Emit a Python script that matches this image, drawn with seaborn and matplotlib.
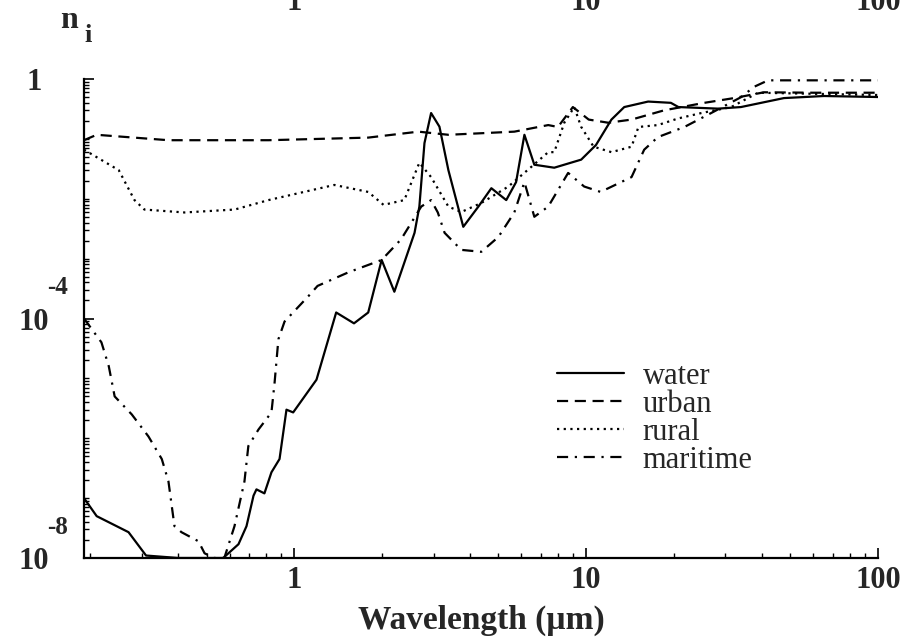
import numpy as np
import pandas as pd
import matplotlib
matplotlib.use("Agg")
import matplotlib.pyplot as plt
import matplotlib.transforms as mtransforms
from matplotlib.ticker import LogLocator, NullFormatter
import seaborn as sns

# values (wavelength in um, imaginary index n_i)
water_wl = [0.19, 0.21, 0.27, 0.31, 0.40, 0.50, 0.57, 0.594, 0.643, 0.685, 0.724, 0.741,
            0.789, 0.834, 0.889, 0.939, 0.99, 1.19, 1.39, 1.60, 1.79, 1.99, 2.20, 2.58,
            2.68, 2.79, 2.94, 3.14, 3.37, 3.79, 4.27, 4.73, 5.32, 5.75, 6.14, 6.64, 7.77,
            9.61, 10.8, 12.2, 13.5, 16.3, 19.5, 20.7, 28.3, 33.9, 47.6, 65.3, 100]
water_n = [1.0e-7, 5.0e-8, 2.7e-8, 1.1e-8, 1e-8, 1e-8, 1e-8, 1.2e-8, 1.7e-8, 3.4e-8,
           1.1e-7, 1.4e-7, 1.2e-7, 2.7e-7, 4.5e-7, 3.0e-6, 2.7e-6, 9.5e-6, 1.26e-4,
           8.3e-5, 1.26e-4, 9.5e-4, 2.8e-4, 2.7e-3, 7.4e-3, 0.085, 0.27, 0.16, 0.030,
           3.4e-3, 7.4e-3, 0.015, 9.5e-3, 0.019, 0.117, 0.037, 0.033, 0.045, 0.079,
           0.21, 0.34, 0.42, 0.40, 0.34, 0.32, 0.34, 0.48, 0.52, 0.50]

urban_wl = [0.19, 0.21, 0.37, 0.815, 1.79, 2.66, 3.37, 5.67, 7.41, 8.0, 9.0, 10.2,
            11.9, 14.3, 18.5, 25.4, 32.1, 40.7, 60.0, 100]
urban_n = [0.095, 0.117, 0.095, 0.095, 0.105, 0.132, 0.117, 0.132, 0.17, 0.158, 0.34,
           0.21, 0.186, 0.21, 0.30, 0.40, 0.48, 0.60, 0.59, 0.59]

rural_wl = [0.19, 0.25, 0.283, 0.306, 0.42, 0.624, 0.815, 1.37, 1.79, 2.02, 2.38, 2.68,
            2.94, 3.37, 3.73, 4.37, 5.41, 6.48, 7.41, 7.77, 8.41, 9.1, 9.6, 10.6, 12.2,
            14.3, 15.1, 17.6, 20.7, 24.8, 31.4, 38.8, 100]
rural_n = [0.066, 0.030, 9.5e-3, 6.6e-3, 5.9e-3, 6.6e-3, 9.5e-3, 0.017, 0.013, 7.9e-3,
           9.5e-3, 0.040, 0.023, 7.4e-3, 6.0e-3, 8.5e-3, 0.016, 0.034, 0.060, 0.060,
           0.186, 0.34, 0.16, 0.074, 0.060, 0.074, 0.158, 0.17, 0.22, 0.27, 0.34, 0.59,
           0.54]

maritime_wl = [0.19, 0.218, 0.231, 0.242, 0.277, 0.316, 0.351, 0.37, 0.388, 0.41, 0.469,
               0.492, 0.53, 0.575, 0.623, 0.674, 0.695, 0.753, 0.834, 0.855, 0.881,
               0.925, 1.12, 1.20, 1.53, 1.99, 2.32, 2.72, 2.94, 3.10, 3.27, 3.73, 4.37,
               5.0, 5.67, 6.14, 6.64, 7.41, 8.67, 9.84, 11.2, 14.3, 15.8, 17.6, 21.7,
               26.8, 34.0, 37.6, 42.0, 100]
maritime_n = [1.0e-4, 4.0e-5, 1.6e-5, 5.0e-6, 2.5e-6, 1.07e-6, 4.5e-7, 1.9e-7, 3.4e-8,
              2.7e-8, 1.9e-8, 1.2e-8, 1e-8, 1e-8, 3.4e-8, 1.9e-7, 7.4e-7, 1.4e-6,
              2.7e-6, 8.5e-6, 4.5e-5, 8.9e-5, 2.4e-4, 3.5e-4, 5.9e-4, 9.5e-4, 2.1e-3,
              7.4e-3, 9.5e-3, 5.9e-3, 2.7e-3, 1.4e-3, 1.3e-3, 2.3e-3, 5.9e-3, 0.019,
              5.0e-3, 7.4e-3, 0.027, 0.016, 0.013, 0.023, 0.066, 0.107, 0.158, 0.27,
              0.50, 0.74, 0.95, 0.95]

series = [("water", water_wl, water_n, "-"),
          ("urban", urban_wl, urban_n, (0, (5, 3))),
          ("rural", rural_wl, rural_n, (0, (1, 2))),
          ("maritime", maritime_wl, maritime_n, (0, (5, 3, 1, 3)))]

ytick_vals = [1e-8, 1e-4, 1]
ytick_base = ["10", "10", "1"]
ytick_exp = ["-8", "-4", ""]
xtick_vals = [1, 10, 100]
xtick_text = ["1", "10", "100"]

sns.set_style("ticks")
plt.rcParams["font.family"] = ["Liberation Serif", "DejaVu Serif"]

fig = plt.figure(figsize=(9.05, 6.39), dpi=100)
ax = fig.add_axes([84 / 905, 81 / 639, 794 / 905, 479 / 639])

for name, wl, n, ls in series:
    df = pd.DataFrame({"wl": wl, "n": n})
    sns.lineplot(data=df, x="wl", y="n", ax=ax, color="black", linestyle=ls,
                 linewidth=1.6, label=name, estimator=None, sort=False)

ax.set_xscale("log")
ax.set_yscale("log")
ax.set_xlim(0.19, 100)
ax.set_ylim(1e-8, 1)

# y axis: small ticks at every decade, labels only on 1, 1e-4, 1e-8
decades = [10.0 ** k for k in range(-8, 1)]
ax.set_yticks(decades, labels=["" for _ in decades])
ax.set_yticks(ytick_vals, labels=ytick_base)
ax.yaxis.set_minor_locator(LogLocator(base=10, subs=np.arange(1, 10), numticks=200))
ax.yaxis.set_minor_formatter(NullFormatter())

ax.set_xticks(xtick_vals, labels=xtick_text)
ax.xaxis.set_minor_locator(LogLocator(base=10, subs=np.arange(2, 10), numticks=50))
ax.xaxis.set_minor_formatter(NullFormatter())

ax.tick_params(axis="both", which="major", direction="in", length=7, width=1.2,
               labelsize=22, color="black")
ax.tick_params(axis="both", which="minor", direction="in", length=3.5, width=1,
               color="black")
ax.tick_params(axis="y", which="major", pad=36)
ax.tick_params(axis="x", which="major", pad=6)
for lab in ax.get_xticklabels() + ax.get_yticklabels():
    lab.set_fontweight("bold")
for lab in ax.get_yticklabels():
    lab.set_horizontalalignment("center")

# exponents sit well above the "10"
ytrans = mtransforms.blended_transform_factory(ax.transAxes, ax.transData)
exp_trans = mtransforms.offset_copy(ytrans, fig=fig, y=22, units="points")
for v, e in zip(ytick_vals, ytick_exp):
    if e:
        ax.text(-0.033, v, e, transform=exp_trans, ha="center", va="center",
                fontsize=18, fontweight="bold", clip_on=False)

sns.despine(ax=ax)
for side in ["left", "bottom"]:
    ax.spines[side].set_linewidth(1.6)
    ax.spines[side].set_color("black")

ax.set_xlabel("Wavelength (µm)", fontsize=24, fontweight="bold", labelpad=7)
ax.set_ylabel("")

fig.text(60 / 905, 1 - 28 / 639, "n", fontsize=23, fontweight="bold", va="baseline")
fig.text(84 / 905, 1 - 42 / 639, "i", fontsize=19, fontweight="bold", va="baseline")

# tick labels of the panel above, cut off by the crop
top = mtransforms.blended_transform_factory(ax.transData, fig.transFigure)
for v, s in zip(xtick_vals, xtick_text):
    ax.text(v, 1 - 10 / 639, s, transform=top, ha="center", va="baseline",
            fontsize=22, fontweight="bold", clip_on=False)

leg = ax.legend(loc="upper left", bbox_to_anchor=(0.596, 0.41), frameon=False,
                fontsize=22, handlelength=2.2, handletextpad=0.6, labelspacing=-0.03,
                borderpad=0, borderaxespad=0)
for line in leg.get_lines():
    line.set_linewidth(1.6)

fig.savefig("out.png", dpi=100, facecolor="white")
